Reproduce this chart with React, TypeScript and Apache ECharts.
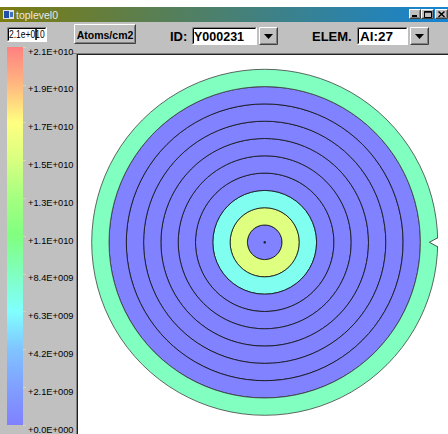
import React, { useEffect, useRef } from "react";
import * as echarts from "echarts";

// Wafer rings (mm from centre) and their concentration (atoms/cm2)
const ringInnerRadii = [0, 10, 20, 30, 40, 50, 60, 70, 80, 90];
const ringOuterRadii = [10, 20, 30, 40, 50, 60, 70, 80, 90, 100];
const ringValues = [1.0e8, 1.5e10, 6.8e9, 1.0e8, 1.0e8, 1.0e8, 1.0e8, 1.0e8, 1.0e8, 8.4e9];
const measurePoints = [[0, 0]];
const notchX = [100.6, 95.2, 100.6];
const notchY = [2.6, 0, -2.6];

// Colour scale
const scaleMin = 0;
const scaleMax = 2.1e10;
const scaleStep = 2.1e9;
const scaleLabels = [
  "+0.0E+000", "+2.1E+009", "+4.2E+009", "+6.3E+009", "+8.4E+009", "+1.1E+010",
  "+1.3E+010", "+1.5E+010", "+1.7E+010", "+1.9E+010", "+2.1E+010",
];
const scaleColors = [
  "#8080ff", "#80a0ff", "#80c4ff", "#80ffff", "#80ffc0", "#80ff80",
  "#a4ff80", "#d8ff80", "#ffff80", "#ffb880", "#ff8080",
];

const FONT = "'Liberation Sans', Arial, sans-serif";

function bevel(x: number, y: number, w: number, h: number, fill: string, raised: boolean): any[] {
  const tl = raised ? "#ffffff" : "#808080";
  const br = raised ? "#404040" : "#ffffff";
  const els: any[] = [
    { type: "rect", shape: { x, y, width: w, height: h }, style: { fill } },
    {
      type: "polyline",
      shape: { points: [[x + 0.5, y + h - 0.5], [x + 0.5, y + 0.5], [x + w - 0.5, y + 0.5]] },
      style: { stroke: tl, lineWidth: 1, fill: null },
    },
    {
      type: "polyline",
      shape: { points: [[x + 0.5, y + h - 0.5], [x + w - 0.5, y + h - 0.5], [x + w - 0.5, y + 0.5]] },
      style: { stroke: br, lineWidth: 1, fill: null },
    },
  ];
  if (!raised) {
    els.push({
      type: "polyline",
      shape: { points: [[x + 1.5, y + h - 1.5], [x + 1.5, y + 1.5], [x + w - 1.5, y + 1.5]] },
      style: { stroke: "#000000", lineWidth: 1, fill: null },
    });
  } else {
    els.push({
      type: "polyline",
      shape: { points: [[x + 1.5, y + h - 1.5], [x + w - 1.5, y + h - 1.5], [x + w - 1.5, y + 1.5]] },
      style: { stroke: "#808080", lineWidth: 1, fill: null },
    });
  }
  return els;
}

function txt(x: number, y: number, text: string, size: number, bold: boolean, extra: any = {}, el: any = {}): any {
  return {
    type: "text",
    x,
    y,
    ...el,
    style: {
      text,
      fontSize: size,
      fontWeight: bold ? "bold" : "normal",
      fontFamily: FONT,
      fill: "#000000",
      verticalAlign: "middle",
      align: "left",
      ...extra,
    },
  };
}

function dropArrow(x: number, y: number): any[] {
  return [
    ...bevel(x, y, 19, 18, "#c0c0c0", true),
    {
      type: "polygon",
      shape: { points: [[x + 5, y + 7], [x + 14, y + 7], [x + 9.5, y + 12]] },
      style: { fill: "#000000" },
    },
  ];
}

export default function App() {
  const ref = useRef<HTMLDivElement>(null);

  useEffect(() => {
    if (!ref.current) return;
    const chart = echarts.init(ref.current, undefined, { renderer: "svg" });

    const ringData = ringValues.map((v, i) => [ringInnerRadii[i], ringOuterRadii[i], v]);
    const barGradient = new echarts.graphic.LinearGradient(
      0, 1, 0, 0,
      scaleColors.map((c, i) => ({ offset: i / (scaleColors.length - 1), color: c }))
    );

    const graphicEls: any[] = [
      { type: "rect", shape: { x: 0, y: 22, width: 448, height: 412 }, style: { fill: "#c0c0c0" } },
      {
        type: "rect",
        shape: { x: 0, y: 7, width: 448, height: 15 },
        style: {
          fill: new echarts.graphic.LinearGradient(0, 0, 1, 0, [
            { offset: 0, color: "#7c7c10" },
            { offset: 1, color: "#1684d2" },
          ]),
        },
      },
      { type: "rect", shape: { x: 3, y: 10, width: 11, height: 9 }, style: { fill: "#e0e0f0" } },
      { type: "rect", shape: { x: 4, y: 11, width: 5, height: 7 }, style: { fill: "#2050a8" } },
      { type: "rect", shape: { x: 10, y: 12, width: 3, height: 5 }, style: { fill: "#4070c0" } },
      txt(16, 15, "toplevel0", 10.5, false, { fill: "#e8e8e8" }),
      ...bevel(409, 9, 12, 10, "#c0c0c0", true),
      ...bevel(421, 9, 13, 10, "#c0c0c0", true),
      ...bevel(435, 9, 13, 10, "#c0c0c0", true),
      { type: "rect", shape: { x: 412, y: 15, width: 5, height: 2 }, style: { fill: "#000" } },
      { type: "rect", shape: { x: 424.5, y: 11.5, width: 7, height: 6 }, style: { fill: null, stroke: "#000", lineWidth: 1 } },
      { type: "line", shape: { x1: 424.5, y1: 12, x2: 431.5, y2: 12 }, style: { stroke: "#000", lineWidth: 1.5 } },
      { type: "line", shape: { x1: 438.5, y1: 11.5, x2: 444.5, y2: 17 }, style: { stroke: "#000", lineWidth: 1.5 } },
      { type: "line", shape: { x1: 444.5, y1: 11.5, x2: 438.5, y2: 17 }, style: { stroke: "#000", lineWidth: 1.5 } },
      ...bevel(7, 27, 40, 15, "#ffffff", false),
      txt(9, 35, "2.1e+010", 10, false, {}, { scaleX: 0.85 }),
      { type: "rect", shape: { x: 35.3, y: 29, width: 1.5, height: 11 }, style: { fill: "#000" } },
      ...bevel(74, 24, 62, 20, "#c0c0c0", true),
      txt(105, 34.5, "Atoms/cm2", 10.5, true, { align: "center" }),
      txt(170, 36, "ID:", 13, true),
      ...bevel(192, 27, 65, 18, "#ffffff", false),
      txt(194, 36.5, "Y000231", 12.5, true),
      ...dropArrow(259, 27),
      txt(312, 36, "ELEM.", 13, true),
      ...bevel(357, 27, 51, 18, "#ffffff", false),
      txt(360, 36.5, "Al:27", 13.5, true),
      ...dropArrow(410, 27),
      { type: "rect", shape: { x: 76, y: 53, width: 372, height: 381 }, style: { fill: "#ffffff" } },
      { type: "line", shape: { x1: 72, y1: 53.5, x2: 448, y2: 53.5 }, style: { stroke: "#808080", lineWidth: 1 } },
      { type: "line", shape: { x1: 76.5, y1: 53, x2: 76.5, y2: 434 }, style: { stroke: "#808080", lineWidth: 1 } },
      { type: "line", shape: { x1: 77, y1: 54.5, x2: 448, y2: 54.5 }, style: { stroke: "#202020", lineWidth: 1 } },
      { type: "line", shape: { x1: 77.5, y1: 54, x2: 77.5, y2: 434 }, style: { stroke: "#202020", lineWidth: 1 } },
    ];

    const option: any = {
      animation: false,
      backgroundColor: "#ffffff",
      textStyle: { fontFamily: FONT },
      graphic: { elements: graphicEls },
      grid: [
        { left: 91.7, top: 69.3, width: 346, height: 346 },
        { left: 7, top: 47, width: 16, height: 380 },
      ],
      xAxis: [
        { type: "value", gridIndex: 0, min: -100, max: 100, show: false },
        { type: "category", gridIndex: 1, data: ["scale"], show: false },
      ],
      yAxis: [
        { type: "value", gridIndex: 0, min: -100, max: 100, show: false },
        {
          type: "value",
          gridIndex: 1,
          position: "right",
          min: scaleMin,
          max: scaleMax,
          interval: scaleStep,
          axisLine: { show: false },
          axisTick: { show: true, length: 3, lineStyle: { color: "#d8d8a0" } },
          splitLine: { show: false },
          axisLabel: {
            margin: 5,
            fontSize: 9.3,
            color: "#000000",
            fontFamily: FONT,
            verticalAlign: "top",
            showMinLabel: true,
            showMaxLabel: true,
            formatter: (v: number) => scaleLabels[Math.round((v - scaleMin) / scaleStep)] ?? "",
          },
        },
      ],
      visualMap: [
        {
          type: "continuous",
          show: false,
          seriesIndex: 0,
          dimension: 2,
          min: scaleMin,
          max: scaleMax,
          inRange: { color: scaleColors },
        },
      ],
      series: [
        {
          type: "custom",
          xAxisIndex: 0,
          yAxisIndex: 0,
          data: ringData,
          silent: true,
          renderItem: (params: any, api: any) => {
            const r0 = api.value(0);
            const r = api.value(1);
            const c = api.coord([0, 0]);
            const pr = api.coord([r, 0]);
            const pr0 = api.coord([r0, 0]);
            return {
              type: "ring",
              shape: { cx: c[0], cy: c[1], r: pr[0] - c[0], r0: pr0[0] - c[0] },
              style: {
                fill: api.visual("color"),
                stroke: r >= 100 ? "#404040" : "#101010",
                lineWidth: 0.8,
              },
            };
          },
        },
        {
          type: "custom",
          xAxisIndex: 0,
          yAxisIndex: 0,
          data: [[0]],
          silent: true,
          z: 3,
          renderItem: (params: any, api: any) => {
            const pts = notchX.map((x, i) => api.coord([x, notchY[i]]));
            const rim = notchY.map((y, i) => {
              const x = i === 1 ? notchX[i] : Math.sqrt(100 * 100 - y * y);
              return api.coord([x, y]);
            });
            return {
              type: "group",
              children: [
                { type: "polygon", shape: { points: pts }, style: { fill: "#ffffff" } },
                { type: "polyline", shape: { points: rim }, style: { stroke: "#303030", lineWidth: 0.8, fill: null } },
              ],
            };
          },
        },
        {
          type: "scatter",
          xAxisIndex: 0,
          yAxisIndex: 0,
          data: measurePoints,
          symbolSize: 2.5,
          itemStyle: { color: "#000000" },
          silent: true,
          z: 4,
        },
        {
          type: "bar",
          xAxisIndex: 1,
          yAxisIndex: 1,
          data: [scaleMax],
          barWidth: "100%",
          silent: true,
          itemStyle: { color: barGradient, borderRadius: 0 },
        },
      ],
    };

    chart.setOption(option);
    return () => chart.dispose();
  }, []);

  return (
    <div
      ref={ref}
      style={{ position: "absolute", left: 0, top: 0, width: 448, height: 434 }}
    />
  );
}
